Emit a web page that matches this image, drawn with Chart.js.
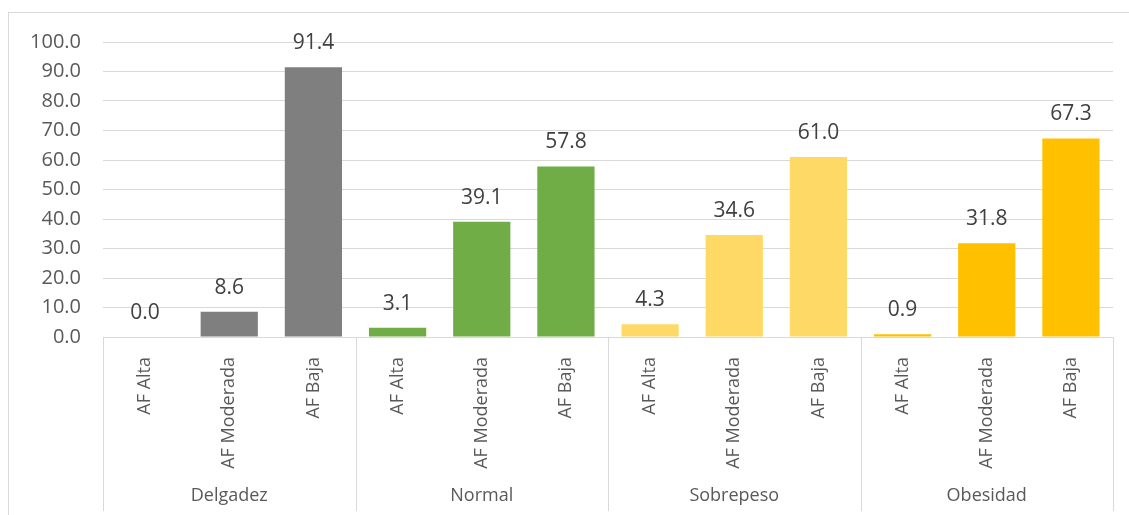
<!DOCTYPE html>
<html>
<head>
<meta charset="utf-8">
<script src="https://cdn.jsdelivr.net/npm/chart.js@4/dist/chart.umd.min.js"></script>
<style>
  html, body { margin: 0; padding: 0; background: #fff; }
  #wrap { width: 1129px; height: 515px; position: relative; }
</style>
</head>
<body>
<div id="wrap"><canvas id="chart" width="1129" height="515"></canvas></div>
<script>
const groups = ["Delgadez", "Normal", "Sobrepeso", "Obesidad"];
const levels = ["AF Alta", "AF Moderada", "AF Baja"];
const values = [0.0, 8.6, 91.4, 3.1, 39.1, 57.8, 4.3, 34.6, 61.0, 0.9, 31.8, 67.3];
const groupColors = ["#7f7f7f", "#70ad47", "#ffd966", "#ffc000"];
const yTicks = [0, 10, 20, 30, 40, 50, 60, 70, 80, 90, 100];

const labels = [];
const colors = [];
groups.forEach(function (g, gi) {
    levels.forEach(function (l) {
        labels.push(l);
        colors.push(groupColors[gi]);
    });
});

const FONT = "'Open Sans', sans-serif";

const extras = {
    id: "extras",
    beforeDraw: function (chart) {
        const ctx = chart.ctx;
        ctx.save();
        ctx.strokeStyle = "#d9d9d9";
        ctx.lineWidth = 1;
        ctx.strokeRect(8.5, 12.5, 1300, 600);
        ctx.restore();
    },
    afterDraw: function (chart) {
        const ctx = chart.ctx;
        const area = chart.chartArea;
        const meta = chart.getDatasetMeta(0);

        // value labels
        ctx.save();
        ctx.fillStyle = "#404040";
        ctx.font = "21px " + FONT;
        ctx.textAlign = "center";
        ctx.textBaseline = "alphabetic";
        meta.data.forEach(function (bar, i) {
            ctx.fillText(values[i].toFixed(1), bar.x, bar.y - 18);
        });
        ctx.restore();

        // group separators and labels
        const step = (area.right - area.left) / labels.length;
        ctx.save();
        ctx.strokeStyle = "#d9d9d9";
        ctx.lineWidth = 1;
        for (let g = 0; g <= groups.length; g++) {
            const gx = Math.round(area.left + g * levels.length * step) + 0.5;
            ctx.beginPath();
            ctx.moveTo(gx, area.bottom);
            ctx.lineTo(gx, 511);
            ctx.stroke();
        }
        ctx.fillStyle = "#595959";
        ctx.font = "18px " + FONT;
        ctx.textAlign = "center";
        ctx.textBaseline = "middle";
        groups.forEach(function (g, gi) {
            const cx = area.left + (gi + 0.5) * levels.length * step;
            ctx.fillText(g, cx, 496);
        });
        ctx.restore();
    }
};

new Chart(document.getElementById("chart"), {
    type: "bar",
    data: {
        labels: labels,
        datasets: [{
            data: values,
            backgroundColor: colors,
            barPercentage: 0.68,
            categoryPercentage: 1.0
        }]
    },
    options: {
        responsive: false,
        animation: false,
        layout: { padding: { top: 42, right: 16, left: 0, bottom: 0 } },
        plugins: {
            legend: { display: false },
            tooltip: { enabled: false }
        },
        scales: {
            x: {
                grid: { display: false },
                border: { color: "#d9d9d9" },
                ticks: {
                    color: "#595959",
                    font: { family: FONT, size: 18 },
                    minRotation: 90,
                    maxRotation: 90,
                    padding: 12,
                    autoSkip: false
                },
                afterFit: function (scale) { scale.height = 178; }
            },
            y: {
                min: 0,
                max: 100,
                afterBuildTicks: function (scale) {
                    scale.ticks = yTicks.map(function (v) { return { value: v }; });
                },
                grid: { color: "#d9d9d9", drawTicks: false },
                border: { display: false },
                ticks: {
                    color: "#595959",
                    font: { family: FONT, size: 20 },
                    padding: 22,
                    callback: function (v) { return Number(v).toFixed(1); }
                },
                afterFit: function (scale) { scale.width = 103; }
            }
        }
    },
    plugins: [extras]
});
</script>
</body>
</html>
